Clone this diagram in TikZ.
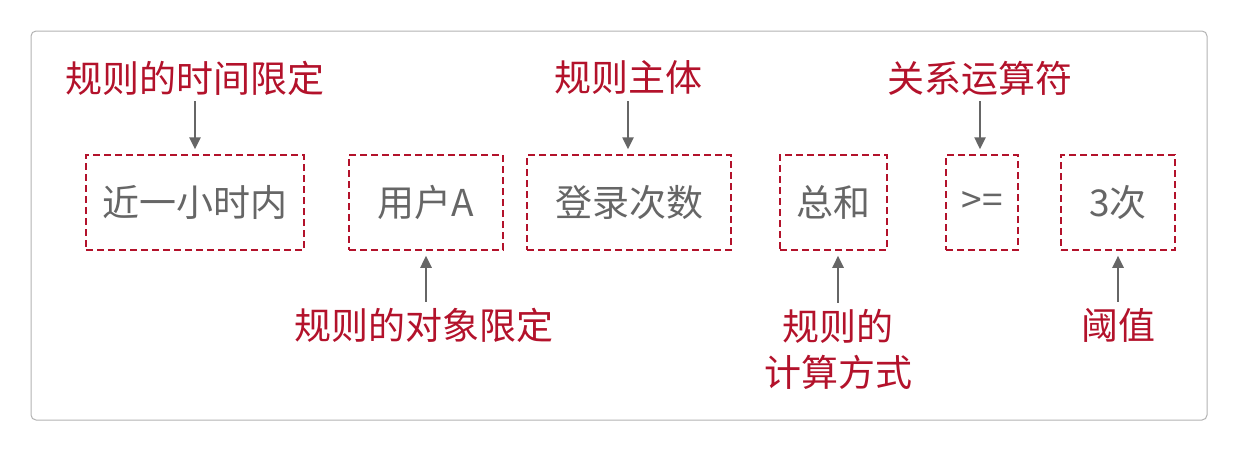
\documentclass[tikz,border=0pt]{standalone}
\usepackage{fontspec}
\setmainfont{Noto Sans CJK SC}
\usetikzlibrary{arrows.meta}
\definecolor{rulered}{HTML}{B3122B}
\definecolor{boxtext}{HTML}{666666}
\definecolor{arrowgray}{HTML}{666666}
\tikzset{
  part/.style={draw=rulered, line width=1.5pt, dash pattern=on 7pt off 4pt,
    text=boxtext, font=\fontsize{37}{44}\selectfont, inner sep=0pt},
  tag/.style={text=rulered, font=\fontsize{37}{46}\selectfont, inner sep=0pt, align=center},
  pointer/.style={draw=arrowgray, line width=2.5pt, -{Triangle[length=12pt,width=11pt]},
    shorten <=6pt, shorten >=5pt}
}
\begin{document}
\begin{tikzpicture}[x=1pt,y=-1pt]
  \useasboundingbox (0,0) rectangle (1238,451);
  \draw[draw=gray!60, line width=1pt, rounded corners=5pt] (31,31) rectangle (1207,420);

  % parts of the rule
  \node[part, minimum width=218pt, minimum height=95pt] (time)   at (195,202.5) {近一小时内};
  \node[part, minimum width=154pt, minimum height=95pt] (object) at (426,202.5) {用户A};
  \node[part, minimum width=204pt, minimum height=95pt] (count)  at (629,202.5) {登录次数};
  \node[part, minimum width=107pt, minimum height=95pt] (sum)    at (833.5,202.5) {总和};
  \node[part, minimum width=72pt,  minimum height=95pt] (ge)     at (982,202.5) {>=};
  \node[part, minimum width=114pt, minimum height=95pt] (limit)  at (1118,202.5) {3次};

  % explanations
  \node[tag] (timetag)   at (195,78)  {规则的时间限定};
  \node[tag] (counttag)  at (628,78)  {规则主体};
  \node[tag] (optag)     at (980,78)  {关系运算符};
  \node[tag] (objecttag) at (424,325) {规则的对象限定};
  \node[tag] (sumtag)    at (838,349) {规则的\\计算方式};
  \node[tag] (limittag)  at (1118,325) {阈值};

  \draw[pointer] (timetag.south) -- (timetag.south |- time.north);
  \draw[pointer] (counttag.south) -- (counttag.south |- count.north);
  \draw[pointer] (optag.south) -- (optag.south |- ge.north);
  \draw[pointer] (objecttag.north -| object.south) -- (object.south);
  \draw[pointer] (sumtag.north) -- (sumtag.north |- sum.south);
  \draw[pointer] (limittag.north) -- (limittag.north |- limit.south);
\end{tikzpicture}
\end{document}
